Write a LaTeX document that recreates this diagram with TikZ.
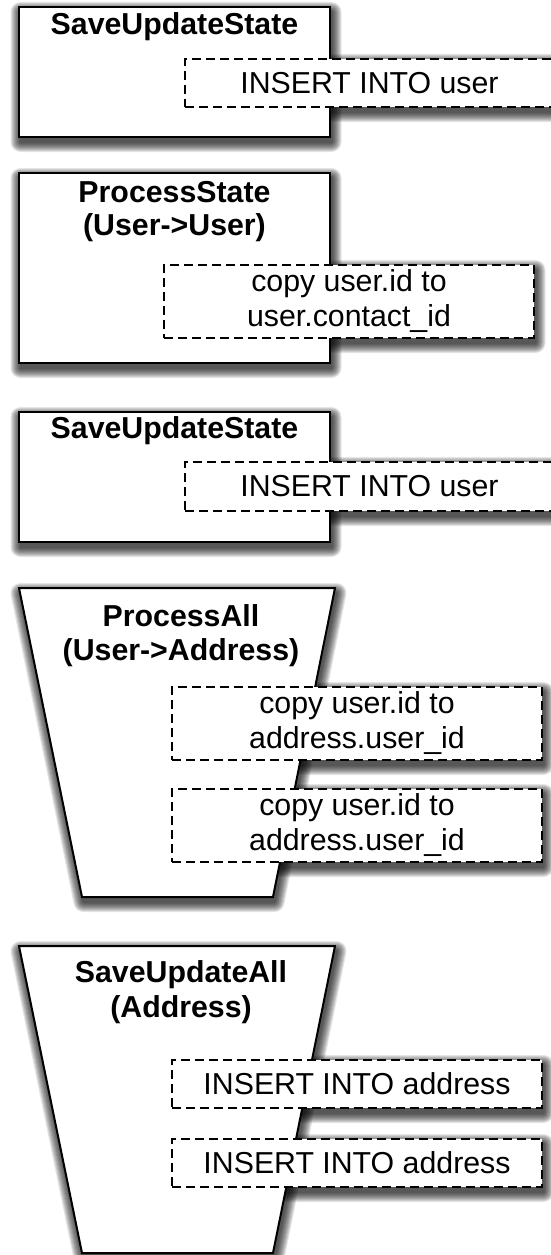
\documentclass[tikz,border=0pt]{standalone}
\usepackage{fontspec}
\setmainfont{Liberation Sans}

\pgfdeclarelayer{shadows}
\pgfsetlayers{shadows,main}

\newcommand\labelfont{\fontsize{30.3}{35}\selectfont}
\newcommand\titlefont{\fontsize{30.3}{35}\selectfont\bfseries}

\tikzset{
  frame/.style={draw=black, fill=white, line width=2pt, line join=miter, outer sep=0pt, inner sep=0pt},
  stepbox/.style={draw=black, fill=white, line width=1.7pt, dash pattern=on 9pt off 5pt,
                  inner sep=0pt, outer sep=0pt, align=center, font=\labelfont},
  title/.style={anchor=base, font=\titlefont, inner sep=0pt},
}

% soft drop shadow: stacked, widening strokes of the outline, offset down-right
\newcommand\castshadow[1]{%
  \begin{pgfonlayer}{shadows}
  \begin{scope}[shift={(1.5,5)}]
  \foreach \r in {1,...,10}{%
    \begin{scope}[transparency group, opacity=0.1]
      \filldraw[black, line width=\r*2pt, line join=round] #1;
    \end{scope}}
  \end{scope}
  \end{pgfonlayer}}

\begin{document}
\begin{tikzpicture}[x=1pt, y=-1pt]
\useasboundingbox (0,0) rectangle (550,1255);

% ---- SaveUpdateState (user) ----
\castshadow{(19,7) rectangle (330,137)}
\castshadow{(185,59) rectangle (554,107)}
\node[frame, anchor=north west, minimum width=311pt, minimum height=130pt] (save1) at (19,7) {};
\node[title] (save1t) at (174.5,35) {SaveUpdateState};
\node[stepbox, minimum width=369pt, minimum height=48pt] (ins1) at (369.5,83) {INSERT INTO user};

% ---- ProcessState (User->User) ----
\castshadow{(19,173) rectangle (330,363)}
\castshadow{(164,265) rectangle (534,338)}
\node[frame, anchor=north west, minimum width=311pt, minimum height=190pt] (proc1) at (19,173) {};
\node[title] (proc1a) at (174.5,202) {ProcessState};
\node[title] (proc1b) at (174.5,235) {(User->User)};
\node[stepbox, minimum width=370pt, minimum height=73pt] (copy1) at (349,301.5)
  {copy user.id to\\user.contact\_id};

% ---- SaveUpdateState (user) ----
\castshadow{(19,412) rectangle (330,542)}
\castshadow{(185,462) rectangle (554,511)}
\node[frame, anchor=north west, minimum width=311pt, minimum height=130pt] (save2) at (19,412) {};
\node[title] (save2t) at (174.5,438) {SaveUpdateState};
\node[stepbox, minimum width=369pt, minimum height=49pt] (ins2) at (369.5,486.5) {INSERT INTO user};

% ---- ProcessAll (User->Address) ----
\castshadow{(19,588) -- (335,588) -- (273,897) -- (82,897) -- cycle}
\castshadow{(172,687) rectangle (542,760)}
\castshadow{(172,789) rectangle (542,862)}
\draw[frame] (19,588) coordinate (pa-nw) -- (335,588) coordinate (pa-ne)
  -- (273,897) coordinate (pa-se) -- (82,897) coordinate (pa-sw) -- cycle;
\node[title] (proc2a) at (181,626) {ProcessAll};
\node[title] (proc2b) at (181,660) {(User->Address)};
\node[stepbox, minimum width=370pt, minimum height=73pt] (copy2) at (357,723.5)
  {copy user.id to\\address.user\_id};
\node[stepbox, minimum width=370pt, minimum height=73pt] (copy3) at (357,825.5)
  {copy user.id to\\address.user\_id};

% ---- SaveUpdateAll (Address) ----
\castshadow{(19,946) -- (335,946) -- (273,1253) -- (82,1253) -- cycle}
\castshadow{(172,1060) rectangle (542,1108)}
\castshadow{(172,1139) rectangle (542,1187)}
\draw[frame] (19,946) coordinate (sa-nw) -- (335,946) coordinate (sa-ne)
  -- (273,1253) coordinate (sa-se) -- (82,1253) coordinate (sa-sw) -- cycle;
\node[title] (save3a) at (181,982) {SaveUpdateAll};
\node[title] (save3b) at (181,1017) {(Address)};
\node[stepbox, minimum width=370pt, minimum height=48pt] (ins3) at (357,1084) {INSERT INTO address};
\node[stepbox, minimum width=370pt, minimum height=48pt] (ins4) at (357,1163) {INSERT INTO address};
\end{tikzpicture}
\end{document}
